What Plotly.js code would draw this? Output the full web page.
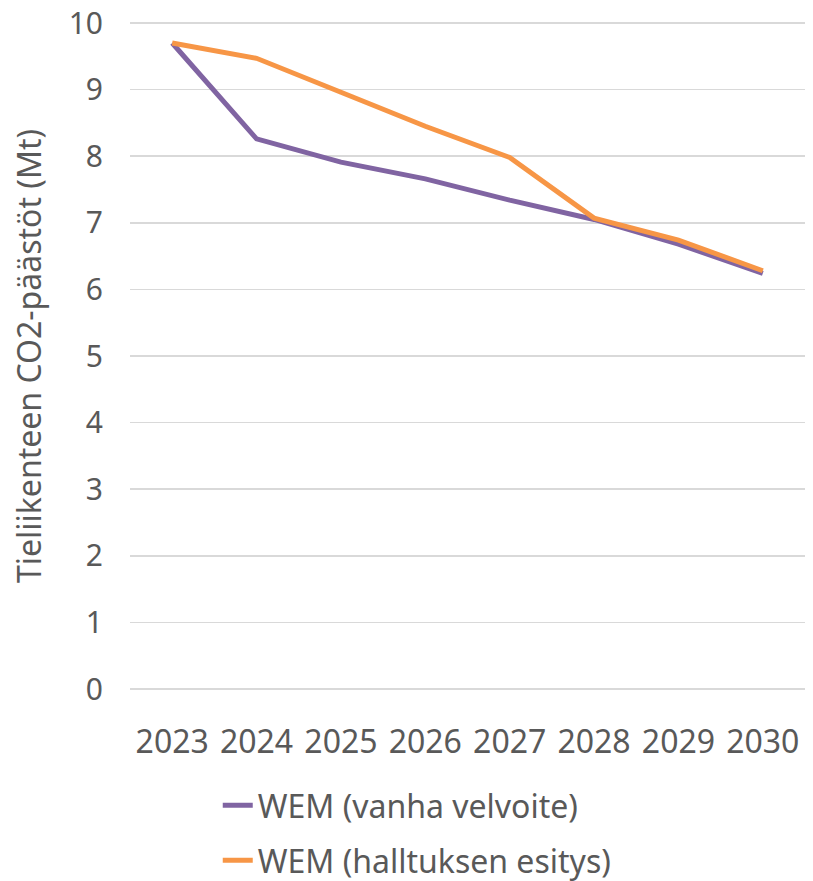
<!DOCTYPE html>
<html>
<head>
<meta charset="utf-8">
<script src="https://cdn.plot.ly/plotly-3.0.1.min.js"></script>
<style>html,body{margin:0;padding:0;background:#fff;}#chart{width:813px;height:881px;}</style>
</head>
<body>
<div id="chart"></div>
<script>
const years = ["2023", "2024", "2025", "2026", "2027", "2028", "2029", "2030"];
const wemVanha = [9.70, 8.26, 7.91, 7.66, 7.34, 7.05, 6.68, 6.24];
const wemHallitus = [9.70, 9.47, 8.96, 8.45, 7.98, 7.07, 6.74, 6.28];
const nameVanha = "WEM (vanha velvoite)";
const nameHallitus = "WEM (halltuksen esitys)";
const yTitle = "Tieliikenteen CO2-päästöt (Mt)";

const FONT = "'Noto Sans', 'Open Sans', sans-serif";
const TXT = "#595959";

const traces = [
  {x: years, y: wemVanha, name: nameVanha, type: "scatter", mode: "lines",
   line: {color: "#8064A2", width: 5}, legend: "legend"},
  {x: years, y: wemHallitus, name: nameHallitus, type: "scatter", mode: "lines",
   line: {color: "#F79646", width: 5}, legend: "legend2"}
];

const layout = {
  width: 813, height: 881,
  margin: {l: 130, r: 8, t: 21, b: 190, autoexpand: false},
  paper_bgcolor: "#fff", plot_bgcolor: "#fff",
  font: {family: FONT, color: TXT, size: 30},
  showlegend: true,
  xaxis: {type: "category", range: [-0.5, 7.5], showgrid: false, zeroline: false,
          showline: false, ticks: "", ticklabelstandoff: 29,
          tickfont: {family: FONT, size: 32, color: TXT}},
  yaxis: {range: [-0.03, 10.03], tickmode: "linear", dtick: 1, tick0: 0, showgrid: true,
          gridcolor: "#D9D9D9", gridwidth: 1.5, zeroline: false, showline: false, ticks: "",
          ticklabelstandoff: 26,
          tickfont: {family: FONT, size: 30, color: TXT},
          title: {text: yTitle, standoff: 17, font: {family: FONT, size: 32, color: TXT}}},
  legend: {x: 0.13, y: -0.171, xanchor: "left", yanchor: "middle", orientation: "v",
           bgcolor: "rgba(0,0,0,0)", font: {family: FONT, size: 32, color: TXT}},
  legend2: {x: 0.13, y: -0.253, xanchor: "left", yanchor: "middle", orientation: "v",
           bgcolor: "rgba(0,0,0,0)", font: {family: FONT, size: 32, color: TXT}}
};

Plotly.newPlot("chart", traces, layout, {displayModeBar: false, staticPlot: true});
</script>
</body>
</html>
